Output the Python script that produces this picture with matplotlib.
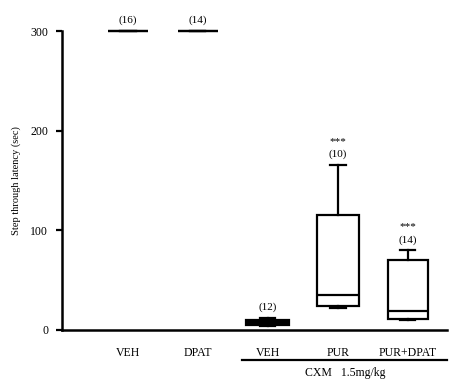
import matplotlib
matplotlib.use("Agg")
import matplotlib.pyplot as plt

plt.rcParams['font.family'] = ['Liberation Serif', 'DejaVu Serif']

categories = ["VEH", "DPAT", "VEH", "PUR", "PUR+DPAT"]
n_labels = ["(16)", "(14)", "(12)", "(10)", "(14)"]
stars = ["", "", "", "***", "***"]
whislo = [300, 300, 4, 22, 10]
q1 = [300, 300, 5, 24, 11]
med = [300, 300, 8, 35, 19]
q3 = [300, 300, 10, 115, 70]
whishi = [300, 300, 12, 166, 80]
group_label = "CXM   1.5mg/kg"
ylabel = "Step through latency (sec)"
yticks = [0, 100, 200, 300]

fig = plt.figure(figsize=(4.68, 3.83), dpi=100)
ax = fig.add_axes([62/468, 53/383, 385/468, 299/383])

positions = list(range(1, len(categories) + 1))
stats = []
for i in range(len(categories)):
    stats.append(dict(whislo=whislo[i], q1=q1[i], med=med[i], q3=q3[i],
                      whishi=whishi[i], fliers=[], label=categories[i]))

widths = [0.57, 0.57, 0.62, 0.6, 0.57]
bp = ax.bxp(stats, positions=positions, widths=widths, patch_artist=True,
            showfliers=False,
            boxprops=dict(linewidth=1.6, edgecolor='black', facecolor='white'),
            medianprops=dict(linewidth=1.6, color='black'),
            whiskerprops=dict(linewidth=1.6, color='black'),
            capprops=dict(linewidth=1.6, color='black'),
            capwidths=0.22)
bp['boxes'][2].set_facecolor('black')
for art in bp['boxes'] + bp['medians'] + bp['whiskers'] + bp['caps']:
    art.set_clip_on(False)

ax.set_xlim(0.06, 5.56)
ax.set_ylim(0, 300)
ax.set_yticks(yticks)
ax.set_yticklabels([str(t) for t in yticks], fontsize=8.5)
ax.set_xticks(positions)
ax.set_xticklabels(categories, fontsize=8.5)
ax.tick_params(axis='x', length=0, pad=12)
ax.tick_params(axis='y', direction='out', length=4, width=1.6, pad=6)
for s in ['top', 'right']:
    ax.spines[s].set_visible(False)
ax.spines['left'].set_linewidth(1.8)
ax.spines['bottom'].set_linewidth(1.8)
ax.set_ylabel(ylabel, fontsize=7.5, labelpad=7)

for i, p in enumerate(positions):
    ax.annotate(n_labels[i], (p, whishi[i]), xytext=(0, 4), textcoords='offset points',
                ha='center', va='bottom', fontsize=8, annotation_clip=False)
    if stars[i]:
        ax.annotate(stars[i], (p, whishi[i]), xytext=(0, 13.5), textcoords='offset points',
                    ha='center', va='bottom', fontsize=8, annotation_clip=False)

# group underline
trans = ax.get_xaxis_transform()
ax.plot([2.63, 5.56], [-0.1, -0.1], transform=trans, color='black', lw=1.6, clip_on=False)
ax.text(4.1, -0.145, group_label, transform=trans, ha='center', va='center', fontsize=8.5)

fig.savefig("out.png", dpi=100)
